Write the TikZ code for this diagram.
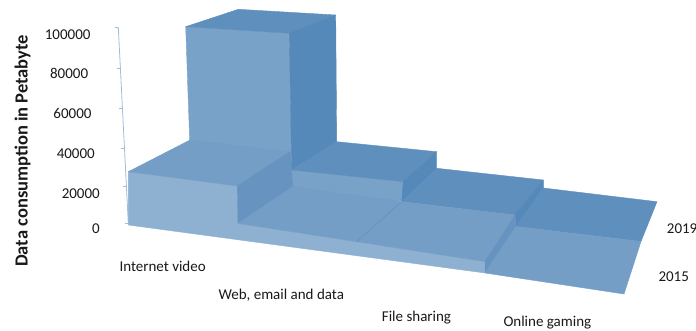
\documentclass[tikz,border=0pt]{standalone}
\usepackage{fontspec}
\setmainfont{Carlito}
\definecolor{front15}{RGB}{143,177,209}
\definecolor{top15}{RGB}{116,158,198}
\definecolor{side15}{RGB}{103,147,192}
\definecolor{front19}{RGB}{121,162,200}
\definecolor{top19}{RGB}{95,143,189}
\definecolor{side19}{RGB}{85,137,185}
\definecolor{axiscol}{RGB}{160,190,218}
\definecolor{txt}{RGB}{25,25,25}
\tikzset{
  face/.style={fill=#1, draw=#1, line width=0.4pt, line join=round},
  ticklbl/.style={anchor=east, inner sep=0pt, font=\fontsize{15}{18}\selectfont, text=txt},
  catlbl/.style={anchor=base west, inner sep=0pt, font=\fontsize{15}{18}\selectfont, text=txt},
  axisline/.style={draw=axiscol, line width=0.8pt},
}
\begin{document}
\begin{tikzpicture}[x=1pt,y=-1pt]
\clip (0,0) rectangle (696,331);
\fill[white] (0,0) rectangle (696,331);
% ---------- axis ----------
\coordinate (atop) at (118.3,27.3);
\coordinate (abot) at (128.3,223.3);
\draw[axisline] (atop) -- (abot);
\foreach \yy in {27.3,68.3,108.3,148.3,186.7,223.3}{
  \pgfmathsetmacro{\xx}{118.3+(\yy-27.3)/196*10}
  \draw[axisline] (\xx-3.5,\yy) -- (\xx,\yy);
}
% ---------- 2019 series (back) ----------
\path[face=front19] (185.7,26.7) -- (289.3,33.3) -- (291.7,170) -- (403.3,181.7)
   -- (402.5,201) -- (292,200) -- (190,150) -- cycle;
\path[face=top19] (185.7,26.7) -- (238.3,9.3) -- (335.7,15) -- (289.3,33.3) -- cycle;
\path[face=side19] (289.3,33.3) -- (335.7,15) -- (336.7,141.7) -- (291.7,170) -- cycle;
\path[face=top19] (291.7,170) -- (336.7,141.7) -- (436.7,151.7) -- (403.3,181.7) -- cycle;
\path[face=side19] (403.3,181.7) -- (436.7,151.7) -- (436.7,168.3) -- (401.7,201.7) -- cycle;
\path[face=top19] (401.7,201.7) -- (436.7,168.3) -- (543.3,180) -- (515,215) -- cycle;
\path[face=side19] (515,215) -- (543.3,180) -- (543.3,188) -- (516,226.5) -- cycle;
\path[face=top19] (516,226.5) -- (543.3,188) -- (657,201.7) -- (641,241.5) -- cycle;
% ---------- 2015 series (front) ----------
\path[face=front15] (128.3,171.7) -- (237.3,186) -- (238,223.5) -- (356.7,241.7)
   -- (485,261.7) -- (485,273) -- (128.3,225) -- cycle;
\path[face=top15] (128.3,171.7) -- (190,140) -- (290,151.7) -- (237.3,186) -- cycle;
\path[face=side15] (237.3,186) -- (290,151.7) -- (292.7,186.7) -- (238,223.5) -- cycle;
\path[face=top15] (238,223.5) -- (292.7,186.7) -- (401.7,201.7) -- (356.7,241.7) -- cycle;
\path[face=top15] (356.7,241.7) -- (401.7,201.7) -- (515,215) -- (485,261.7) -- cycle;
\draw[side15, line width=0.8pt] (356.7,241.7) -- (401.7,201.7);
\path[face=side15] (485,261.7) -- (515,215) -- (516,226.5) -- (485,273) -- cycle;
\path[face=top15] (485,273) -- (516,226.5) -- (641,241.5) -- (624,294) -- cycle;
% ---------- labels ----------
\node[ticklbl] (l100) at (90.7,34.3) {100000};
\node[ticklbl] (l80) at (88.3,73.3) {80000};
\node[ticklbl] (l60) at (91.7,113.3) {60000};
\node[ticklbl] (l40) at (95,153.3) {40000};
\node[ticklbl] (l20) at (100,193.3) {20000};
\node[ticklbl] (l0) at (100,228.3) {0};
\node[rotate=90, anchor=base, inner sep=0pt, font=\fontsize{18.5}{20}\selectfont\bfseries, text=txt] (ylab) at (27.5,150.8) {Data consumption in Petabyte};
\node[catlbl] (civ) at (119.3,271.7) {Internet video};
\node[catlbl] (cweb) at (218.3,299.3) {Web, email and data};
\node[catlbl] (cfs) at (381.7,321) {File sharing};
\node[catlbl] (cog) at (503.3,326) {Online gaming};
\node[catlbl] (s19) at (666.7,233.3) {2019};
\node[catlbl] (s15) at (658.3,281.7) {2015};
\end{tikzpicture}
\end{document}
